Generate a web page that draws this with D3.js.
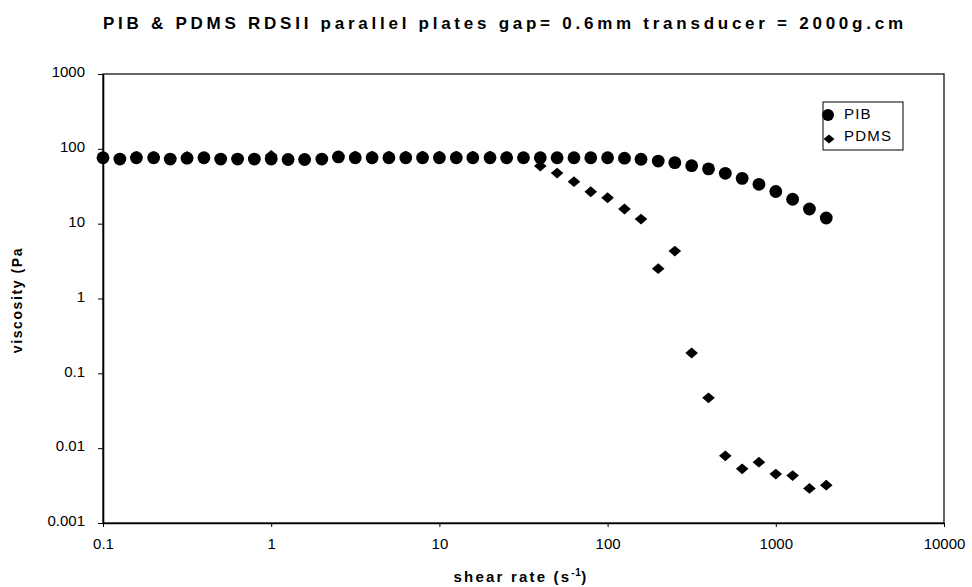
<!DOCTYPE html>
<html><head><meta charset="utf-8">
<script src="https://cdn.jsdelivr.net/npm/d3@7"></script>
<style>
html,body{margin:0;padding:0;background:#fff;}
svg{display:block;font-family:Arial,"Liberation Sans",sans-serif;}
</style></head>
<body>
<svg id="chart" width="972" height="587"></svg>
<script>
const shearRate = [0.1,0.126,0.158,0.2,0.251,0.316,0.398,0.501,0.631,0.794,
  1,1.26,1.58,2,2.51,3.16,3.98,5.01,6.31,7.94,
  10,12.6,15.8,20,25.1,31.6,39.8,50.1,63.1,79.4,
  100,126,158,200,251,316,398,501,631,794,
  1000,1259,1585,1995];
const pib = [76,73,76,76,73,75,76,73,73,73,
  73,72,72,73,78,76,76,76,76,76,
  76,76,76,76,76,76,76,76,76,76,
  76,75,72.6,68.6,65.4,59.5,54,47.1,40.3,33.6,
  26.9,21.2,15.7,11.9];
const pdms = [76,73,79,79,73,79,76,73,73,73,
  82,73,73,73,79,80,80,80,80,80,
  80,80,80,80,78,76,59,47.5,36.4,26.7,
  22.2,15.7,11.5,2.5,4.3,0.187,0.047,0.0079,0.0053,0.0065,
  0.0045,0.0043,0.0029,0.0032];
const xTicks = [0.1,1,10,100,1000,10000];
const yTicks = [0.001,0.01,0.1,1,10,100,1000];
const seriesNames = ["PIB","PDMS"];
const titleText = "PIB & PDMS RDSII parallel plates gap= 0.6mm transducer = 2000g.cm";
const xTitle = "shear rate (s";
const yTitle = "viscosity (Pa";

const svg = d3.select("#chart");
const x = d3.scaleLog().domain([0.1,10000]).range([103,944]);
const y = d3.scaleLog().domain([0.001,1000]).range([523,74]);

// frame (top/right)
svg.append("rect").attr("x",103).attr("y",74).attr("width",944-103).attr("height",523-74)
  .attr("fill","none").attr("stroke","#000").attr("stroke-width",1.2);

const fmt = d => d3.format("~g")(d);
const xa = svg.append("g").attr("transform","translate(0,523)")
  .call(d3.axisBottom(x).tickValues(xTicks).tickFormat(fmt).tickSize(4).tickPadding(11).tickSizeOuter(0));
const ya = svg.append("g").attr("transform","translate(103,0)")
  .call(d3.axisLeft(y).tickValues(yTicks).tickFormat(fmt).tickSize(5).tickPadding(13).tickSizeOuter(0));
[xa,ya].forEach(g=>{
  g.select(".domain").attr("stroke","#000").attr("stroke-width",1.6);
  g.selectAll(".tick line").attr("stroke","#000").attr("stroke-width",1);
  g.selectAll("text").attr("font-family","Arial,'Liberation Sans',sans-serif").attr("font-size",15).attr("fill","#000");
});
ya.selectAll("text").attr("y",-2);

// data
const diamond = (cx,cy,w,h)=>`M${cx},${cy-h}L${cx+w},${cy}L${cx},${cy+h}L${cx-w},${cy}Z`;
svg.append("g").selectAll("path").data(shearRate.map((r,i)=>[r,pdms[i]])).join("path")
  .attr("d",d=>diamond(x(d[0]),y(d[1]),6.3,5.4)).attr("fill","#000");
svg.append("g").selectAll("circle").data(shearRate.map((r,i)=>[r,pib[i]])).join("circle")
  .attr("cx",d=>x(d[0])).attr("cy",d=>y(d[1])).attr("r",6.4).attr("fill","#000");

// legend
const lg = svg.append("g");
lg.append("rect").attr("x",823).attr("y",102).attr("width",80).attr("height",48)
  .attr("fill","#fff").attr("stroke","#000").attr("stroke-width",1);
lg.append("circle").attr("cx",828).attr("cy",115).attr("r",6).attr("fill","#000");
lg.append("path").attr("d",diamond(829,139,5.5,4.5)).attr("fill","#000");
lg.append("text").attr("x",844).attr("y",118.5).attr("font-size",15).attr("letter-spacing",1.2).text(seriesNames[0]);
lg.append("text").attr("x",844).attr("y",141).attr("font-size",15).attr("letter-spacing",1.2).text(seriesNames[1]);

// titles
svg.append("text").attr("x",103).attr("y",29).attr("font-size",17).attr("font-weight","bold")
  .attr("textLength",800).attr("lengthAdjust","spacing").text(titleText);
const xt = svg.append("text").attr("x",521).attr("y",582).attr("text-anchor","middle")
  .attr("font-size",15).attr("font-weight","bold").attr("letter-spacing",2.2);
xt.append("tspan").text(xTitle);
xt.append("tspan").attr("font-size",10).attr("letter-spacing",0.5).attr("dy",-6).text("-1");
xt.append("tspan").attr("dy",6).text(")");
svg.append("text").attr("transform","translate(22,300) rotate(-90)").attr("text-anchor","middle")
  .attr("font-size",14).attr("font-weight","bold").attr("letter-spacing",1.6).text(yTitle);
</script>
</body></html>
